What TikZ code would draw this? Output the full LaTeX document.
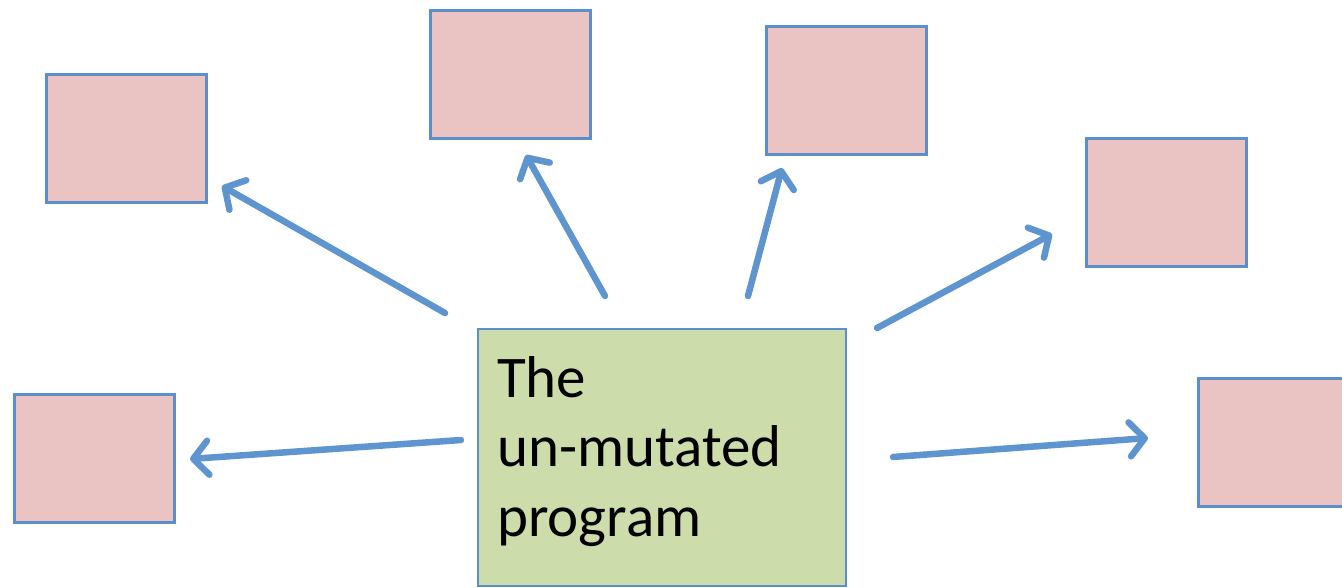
\documentclass[tikz,border=0pt]{standalone}
\usepackage{fontspec}
\setmainfont{Carlito}
\usetikzlibrary{arrows.meta}
\definecolor{pinkfill}{HTML}{EAC4C3}
\definecolor{boxline}{HTML}{5B8FCB}
\definecolor{greenfill}{HTML}{CDDCAB}
\definecolor{arrowblue}{HTML}{5E95CE}
\tikzset{
  mutant/.style={draw=boxline, fill=pinkfill, line width=3pt, minimum width=160pt, minimum height=128pt, anchor=north west, inner sep=0pt},
  origbox/.style={draw=boxline, fill=greenfill, line width=2.2pt, minimum width=368pt, minimum height=257pt, anchor=north west, inner sep=0pt},
  origlabel/.style={anchor=north west, inner sep=0pt, align=left, font=\fontsize{59}{69.5}\selectfont},
  conn/.style={draw=arrowblue, line width=6.5pt, line cap=round, -{Straight Barb[length=15pt, width=34pt, round]}}
}
\begin{document}
\begin{tikzpicture}[x=1pt, y=-1pt]
\useasboundingbox (0,0) rectangle (1342,587);
\node[mutant] (m1) at (45,73) {};
\node[mutant] (m2) at (429,9) {};
\node[mutant] (m3) at (765,25) {};
\node[mutant] (m4) at (1085,137) {};
\node[mutant] (m5) at (13,393) {};
\node[mutant, minimum width=170pt] (m6) at (1197,377) {};
\node[origbox] (orig) at (477,328) {};
\node[origlabel] (origtext) at (497,356) {The\\un-mutated\\program};
\coordinate (s1) at (445,313); \coordinate (e1) at (222,186);
\coordinate (s2) at (605,296); \coordinate (e2) at (526,155);
\coordinate (s3) at (748,296); \coordinate (e3) at (782,168);
\coordinate (s4) at (877,328); \coordinate (e4) at (1052,234);
\coordinate (s5) at (461,440); \coordinate (e5) at (190,459);
\coordinate (s6) at (893,457); \coordinate (e6) at (1148,438);
\foreach \i in {1,...,6} { \draw[conn] (s\i) -- (e\i); }
\end{tikzpicture}
\end{document}
